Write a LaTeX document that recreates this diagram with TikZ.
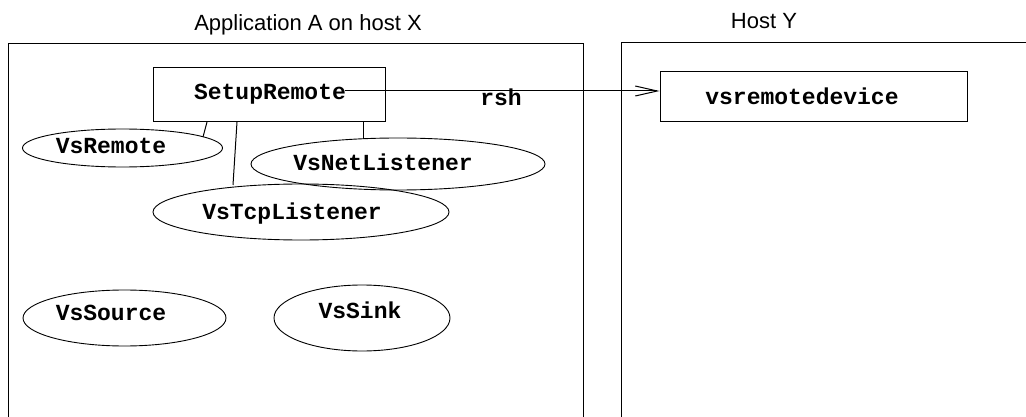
\documentclass[tikz,border=0pt]{standalone}
\usepackage{fontspec}
\setmainfont{Liberation Sans}
\newfontfamily\courfont{Liberation Mono}
\usetikzlibrary{arrows.meta,shapes.geometric}
\tikzset{
  every picture/.style={x=1pt,y=-1pt},
  ln/.style={line width=1pt,black},
  boxnode/.style={draw,line width=1pt,rectangle,inner sep=0pt},
  ell/.style={draw,line width=0.9pt,ellipse,inner sep=0pt},
  code/.style={font=\courfont\bfseries\fontsize{23}{23}\selectfont,inner sep=0pt,anchor=base},
  ttl/.style={font=\fontsize{22}{22}\selectfont,inner sep=0pt,anchor=base}
}
\begin{document}
\begin{tikzpicture}
\useasboundingbox (0,0) rectangle (1026,417);
% titles
\node[ttl] (t1) at (308,31) {Application A on host X};
\node[ttl] (t2) at (764,29) {Host Y};
% outer frames
\draw[ln] (8,417) -- (8,44) -- (583,44) -- (583,417);
\draw[ln] (621,417) -- (621,43) -- (1026,43);
% boxes
\node[boxnode,minimum width=232pt,minimum height=54pt] (setup) at (269,95) {};
\node[code] (setupt) at (270,100) {SetupRemote};
\node[boxnode,minimum width=307pt,minimum height=50pt] (vsrd) at (813.5,97) {};
\node[code] (vsrdt) at (802,105) {vsremotedevice};
% ellipses
\node[ell,minimum width=200pt,minimum height=38pt] (vsremote) at (122.5,148) {};
\node[code] at (111,154) {VsRemote};
\node[ell,minimum width=294pt,minimum height=52pt] (vsnet) at (398,164) {};
\node[code] at (383,171) {VsNetListener};
\node[ell,minimum width=296pt,minimum height=56pt] (vstcp) at (301,212) {};
\node[code] at (292,219) {VsTcpListener};
\node[ell,minimum width=203pt,minimum height=56pt] (vssource) at (124.5,318) {};
\node[code] at (111,320) {VsSource};
\node[ell,minimum width=176pt,minimum height=66pt] (vssink) at (362,318) {};
\node[code] at (360,318) {VsSink};
% rsh label
\node[code] (rsh) at (501,106) {rsh};
% connectors
\coordinate (a0) at (345,91);
\draw[ln,-{Straight Barb[length=22pt,width=10pt,line width=1pt]}] (a0) -- (vsrd.west |- a0);
\coordinate (c1) at (207,122);
\coordinate (c1e) at (203,137);
\draw[ln] (c1) -- (c1e);
\coordinate (c2) at (237,122);
\coordinate (c2e) at (233,185);
\draw[ln] (c2) -- (c2e);
\coordinate (c3) at (363,122);
\coordinate (c3e) at (363,139);
\draw[ln] (c3) -- (c3e);
\end{tikzpicture}
\end{document}
